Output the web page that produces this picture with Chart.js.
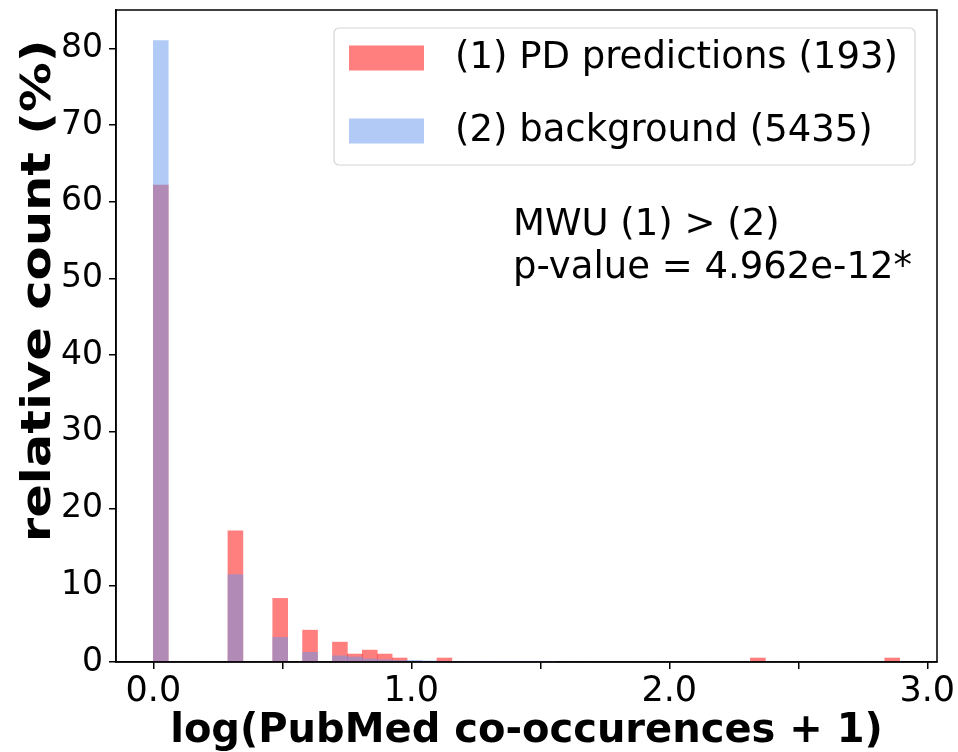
<!DOCTYPE html>
<html>
<head>
<meta charset="utf-8">
<title>PubMed co-occurences histogram</title>
<script src="https://cdn.jsdelivr.net/npm/chart.js"></script>
<style>
  html, body { margin: 0; padding: 0; background: #fff; }
  #wrap { width: 958px; height: 752px; }
</style>
</head>
<body>
<div id="wrap"><canvas id="histChart"></canvas></div>
<script>
// 50 equal bins over log10(co-occurences + 1)
const binStart = 0.0;
const binEnd = 2.893;
const binCount = 50;

// relative count (%) per bin
const pdPredictions = [
  62.18, 0, 0, 0, 0, 17.10, 0, 0, 8.29, 0,
  4.15, 0, 2.59, 1.04, 1.55, 1.04, 0.52, 0, 0, 0.52,
  0, 0, 0, 0, 0, 0, 0, 0, 0, 0,
  0, 0, 0, 0, 0, 0, 0, 0, 0, 0,
  0.52, 0, 0, 0, 0, 0, 0, 0, 0, 0.52
];
const background = [
  81.0, 0, 0, 0, 0, 11.4, 0, 0, 3.2, 0,
  1.26, 0, 0.80, 0.65, 0.40, 0.30, 0.20, 0.22, 0.14, 0.10,
  0.08, 0.06, 0.05, 0.04, 0.02, 0.02, 0.02, 0, 0, 0,
  0, 0, 0, 0, 0, 0, 0, 0, 0, 0,
  0, 0, 0, 0, 0, 0, 0, 0, 0, 0
];

const seriesLabels = ['(1) PD predictions (193)', '(2) background (5435)'];
const xTickValues = [0, 0.5, 1, 1.5, 2, 2.5, 3];
const xTickLabels = ['0.0', '', '1.0', '', '2.0', '', '3.0'];
const yTickValues = [0, 10, 20, 30, 40, 50, 60, 70, 80];
const statLines = ['MWU (1) > (2)', 'p-value = 4.962e-12*'];
const yTitle = 'relative count (%)';

const redFill = 'rgba(255, 0, 0, 0.5)';
const blueFill = 'rgba(100, 149, 237, 0.5)';
const fontFamily = '"DejaVu Sans", sans-serif';

const binWidth = (binEnd - binStart) / binCount;
const binCenters = pdPredictions.map((_, i) => binStart + (i + 0.5) * binWidth);

// black frame, y title, legend box and the test result text
const extras = {
  id: 'extras',
  afterDraw(chart) {
    const { ctx, chartArea: a } = chart;
    ctx.save();
    ctx.strokeStyle = '#000';
    ctx.lineWidth = 1.5;
    ctx.strokeRect(a.left, a.top, a.right - a.left, a.bottom - a.top);

    // y title, a bit stretched along its length like the original
    ctx.save();
    ctx.translate(40, (a.top + a.bottom) / 2 - 45);
    ctx.rotate(-Math.PI / 2);
    ctx.scale(1.24, 1);
    ctx.font = 'bold 40px ' + fontFamily;
    ctx.fillStyle = '#000';
    ctx.textAlign = 'center';
    ctx.textBaseline = 'middle';
    ctx.fillText(yTitle, 0, 0);
    ctx.restore();

    // legend
    const bw = 581, bh = 137;
    const bx = a.right - 22 - bw, by = a.top + 18;
    ctx.fillStyle = 'rgba(255,255,255,0.8)';
    ctx.strokeStyle = '#d6d6d6';
    ctx.lineWidth = 1.2;
    ctx.beginPath();
    ctx.roundRect(bx, by, bw, bh, 5);
    ctx.fill();
    ctx.stroke();
    const fills = [redFill, blueFill];
    ctx.font = '37px ' + fontFamily;
    ctx.textBaseline = 'middle';
    ctx.textAlign = 'left';
    seriesLabels.forEach((label, i) => {
      const rowY = by + 30 + i * 73;
      ctx.fillStyle = fills[i];
      ctx.fillRect(bx + 15, rowY - 12.5, 75, 25);
      ctx.fillStyle = '#000';
      ctx.fillText(label, bx + 121, rowY);
    });

    // statistics text
    ctx.fillStyle = '#000';
    statLines.forEach((line, i) => {
      ctx.fillText(line, a.left + 397, a.top + 215 + i * 43);
    });
    ctx.restore();
  }
};

new Chart(document.getElementById('histChart'), {
  type: 'bar',
  data: {
    labels: binCenters,
    datasets: [
      {
        label: seriesLabels[0],
        data: binCenters.map((x, i) => ({ x, y: pdPredictions[i] })),
        backgroundColor: redFill,
        order: 1,
        grouped: false,
        barPercentage: 1,
        categoryPercentage: 1
      },
      {
        label: seriesLabels[1],
        data: binCenters.map((x, i) => ({ x, y: background[i] })),
        backgroundColor: blueFill,
        order: 0,
        grouped: false,
        barPercentage: 1,
        categoryPercentage: 1
      }
    ]
  },
  options: {
    responsive: true,
    maintainAspectRatio: false,
    animation: false,
    layout: { padding: { left: 0, top: 10, right: 21, bottom: 0 } },
    plugins: { legend: { display: false }, tooltip: { enabled: false } },
    scales: {
      x: {
        type: 'linear',
        offset: false,
        min: binStart - 0.05 * (binEnd - binStart),
        max: binEnd + 0.05 * (binEnd - binStart),
        afterBuildTicks: (s) => { s.ticks = xTickValues.map(v => ({ value: v })); },
        afterFit: (s) => { s.height = 90; s.paddingLeft = 0; s.paddingRight = 0; },
        ticks: {
          autoSkip: false,
          maxRotation: 0,
          color: '#000',
          padding: 2,
          font: { family: fontFamily, size: 35 },
          callback: (v) => xTickLabels[xTickValues.indexOf(v)]
        },
        grid: { display: true, offset: false, drawOnChartArea: false, drawTicks: true, tickLength: 7, color: '#000', lineWidth: 1.5 },
        border: { display: true, color: '#000', width: 1.5 },
        title: {
          display: true,
          text: 'log(PubMed co-occurences + 1)',
          color: '#000',
          padding: { top: 0, bottom: 0 },
          font: { family: fontFamily, size: 40, weight: 'bold', lineHeight: 1 }
        }
      },
      y: {
        min: 0,
        max: 85,
        afterBuildTicks: (s) => { s.ticks = yTickValues.map(v => ({ value: v })); },
        afterFit: (s) => { s.width = 116; s.paddingTop = 0; s.paddingBottom = 0; },
        ticks: {
          color: '#000',
          padding: 6,
          font: { family: fontFamily, size: 33 }
        },
        grid: { display: true, drawOnChartArea: false, drawTicks: true, tickLength: 7, color: '#000', lineWidth: 1.5 },
        border: { display: true, color: '#000', width: 1.5 },
        title: { display: false }
      }
    }
  },
  plugins: [extras]
});
</script>
</body>
</html>
